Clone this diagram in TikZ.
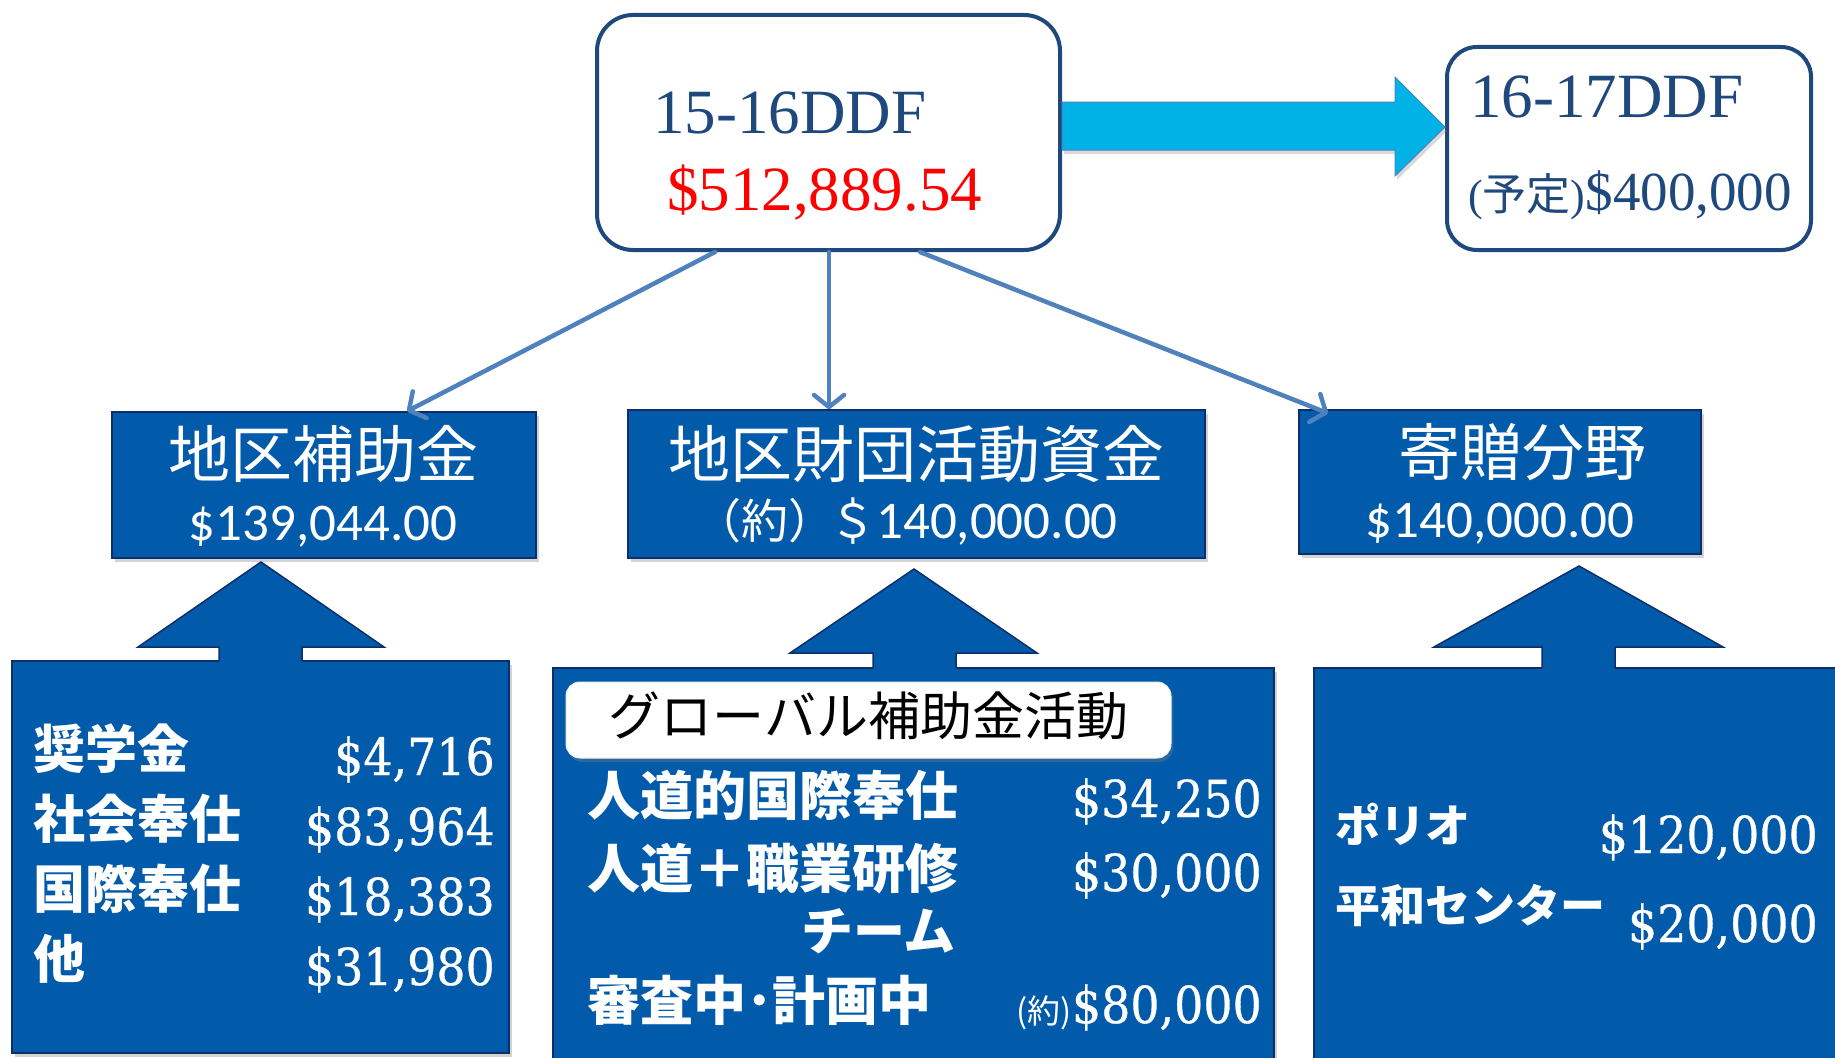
\documentclass[tikz,border=0pt]{standalone}
\usepackage{fontspec}
\usepackage{graphicx}
\setmainfont{Latin Modern Roman}
\newfontfamily\tmsfont{Liberation Serif}
\newfontfamily\cjkfont{Noto Sans CJK JP}
\newfontfamily\carfont{Carlito}
\newfontfamily\serfont[FakeStretch=0.9,FakeBold=0.6]{DejaVu Serif}
\usetikzlibrary{arrows.meta,shadows}
\newcommand\fsz[1]{\fontsize{#1pt}{#1pt}\selectfont}
\definecolor{dkb}{RGB}{31,73,125}
\definecolor{boxb}{RGB}{2,91,170}
\definecolor{navy}{RGB}{14,46,105}
\definecolor{cb}{RGB}{79,129,189}
\definecolor{cyanf}{RGB}{0,178,230}
\newcommand\blkarrow[8]{%
  \fill[boxb] (#6,#8+3) -- (#6,#3) -- (#4,#3) -- (#1,#2) -- (#5,#3) -- (#7,#3) -- (#7,#8+3) -- cycle;
  \draw[navy, line width=1.5pt, line join=miter] (#6,#8) -- (#6,#3) -- (#4,#3) -- (#1,#2) -- (#5,#3) -- (#7,#3) -- (#7,#8);}
\begin{document}
\begin{tikzpicture}[x=1pt,y=-1pt,
  topbox/.style={draw=dkb, line width=4pt, rounded corners=36pt, fill=white, inner sep=0pt},
  lvbox/.style={draw=navy, line width=1.5pt, fill=boxb, inner sep=0pt,
     drop shadow={shadow xshift=3pt, shadow yshift=-4pt, opacity=0.35}},
  conn/.style={draw=cb, line width=4.5pt, line cap=round,
     -{Straight Barb[length=12pt,width=30pt,round]}},
  wt/.style={text=white, inner sep=0pt},
  bk/.style={text=black, inner sep=0pt},
  lab/.style={wt, anchor=base west, font=\cjkfont\bfseries},
  num/.style={wt, anchor=base east, font=\serfont\fsz{51}},
]
\useasboundingbox (0,0) rectangle (1835,1057);
\clip (0,0) rectangle (1835,1057);

% top boxes
\node[topbox, minimum width=463pt, minimum height=235pt] (top) at (828.5,132.5) {};
\node[topbox, rounded corners=30pt, minimum width=364pt, minimum height=203pt] (nxt) at (1629,148.5) {};
\node[inner sep=0pt, anchor=base west, text=dkb] (t1) at (653,133) {\tmsfont\fsz{63}15-16DDF};
\node[inner sep=0pt, anchor=base west, text=red] (t2) at (667,210) {\tmsfont\fsz{63}\$512,889.54};
\node[inner sep=0pt, anchor=base west, text=dkb] (n1) at (1470,117) {\tmsfont\fsz{63}16-17DDF};
\node[inner sep=0pt, anchor=base west, text=dkb] (n2) at (1468,210) {\tmsfont\fsz{44}(\cjkfont 予定\tmsfont)\fsz{55}\$400,000};

% cyan arrow
\draw[fill=cyanf, draw=cb, line width=1pt,
      drop shadow={shadow xshift=2pt, shadow yshift=-4pt, opacity=0.3}]
  (1062,102) -- (1395,102) -- (1395,77) -- (1445,127) -- (1395,176) -- (1395,150) -- (1062,150) -- cycle;

% level 2 boxes
\node[lvbox, minimum width=424pt, minimum height=146pt] (bA) at (324,485) {};
\node[lvbox, minimum width=577pt, minimum height=148pt] (bB) at (916.5,484) {};
\node[lvbox, minimum width=402pt, minimum height=144pt] (bC) at (1500,482) {};

\node[wt, anchor=base] (a1) at (323,477) {\cjkfont\fsz{62}地区補助金};
\node[wt, anchor=base] (a2) at (323,540) {\carfont\fsz{53}\$139,044.00};
\node[wt, anchor=base] (b1) at (916,477) {\cjkfont\fsz{62}地区財団活動資金};
\node[wt, anchor=base] (b2) at (906,538) {\cjkfont\fsz{47}（約）\kern-6pt＄\carfont\fsz{53}140,000.00};
\node[wt, anchor=base] (c1) at (1522,475) {\cjkfont\fsz{62}寄贈分野};
\node[wt, anchor=base] (c2) at (1500,537) {\carfont\fsz{53}\$140,000.00};

% connectors
\draw[conn] ([xshift=-113.5pt]top.south) -- ([xshift=83pt]bA.north);
\draw[conn] ([xshift=0.5pt]top.south) -- ([xshift=-87.5pt]bB.north);
\draw[conn] ([xshift=91.5pt]top.south) -- ([xshift=-172pt,yshift=-4pt]bC.north);

% lower boxes
\node[lvbox, minimum width=497pt, minimum height=392pt] (L1) at (260.5,857) {};
\node[lvbox, minimum width=721pt, minimum height=407pt] (L2) at (913.5,871.5) {};
\node[lvbox, minimum width=531pt, minimum height=407pt] (L3) at (1579.5,871.5) {};

% block arrows
\blkarrow{261}{562}{647}{138}{384}{219}{302}{661}
\blkarrow{914}{569}{653}{790}{1037}{873}{956}{668}
\blkarrow{1579}{566}{647}{1434}{1723}{1542}{1615}{668}

% lower box 1
\node[lab] (l11) at (33,768) {\fsz{52}奨学金};
\node[lab] (l12) at (33,838) {\fsz{52}社会奉仕};
\node[lab] (l13) at (33,908) {\fsz{52}国際奉仕};
\node[lab] (l14) at (33,978) {\fsz{52}他};
\node[num] (m11) at (495,775) {\$4,716};
\node[num] (m12) at (495,845) {\$83,964};
\node[num] (m13) at (495,915) {\$18,383};
\node[num] (m14) at (495,985) {\$31,980};

% lower box 2
\node[draw=white!85!gray, line width=1pt, fill=white, rounded corners=14pt, minimum width=605pt,
      minimum height=76pt, inner sep=0pt,
      drop shadow={shadow xshift=2pt, shadow yshift=-4pt, opacity=0.35}] (glob) at (868.5,720) {};
\node[bk, anchor=base] (globt) at (868.5,735) {\cjkfont\fsz{52}グローバル補助金活動};
\node[lab] (l21) at (587,815) {\fsz{53}人道的国際奉仕};
\node[lab] (l22) at (587,888) {\fsz{53}人道＋職業研修};
\node[lab] (l23) at (801,950) {\fsz{52}チーム};
\node[lab] (l24) at (587,1020) {\fsz{53}審査中･計画中};
\node[num] (m21) at (1262,817) {\$34,250};
\node[num] (m22) at (1262,891) {\$30,000};
\node[num] (m24) at (1262,1023) {{\cjkfont\fsz{33}(約)}\$80,000};

% lower box 3
\node[lab] (l31) at (1335,842) {\fsz{45}ポリオ};
\node[lab] (l32) at (1335,922) {\fsz{45}平和センター};
\node[num] (m31) at (1818,853) {\$120,000};
\node[num] (m32) at (1818,942) {\$20,000};
\end{tikzpicture}
\end{document}
